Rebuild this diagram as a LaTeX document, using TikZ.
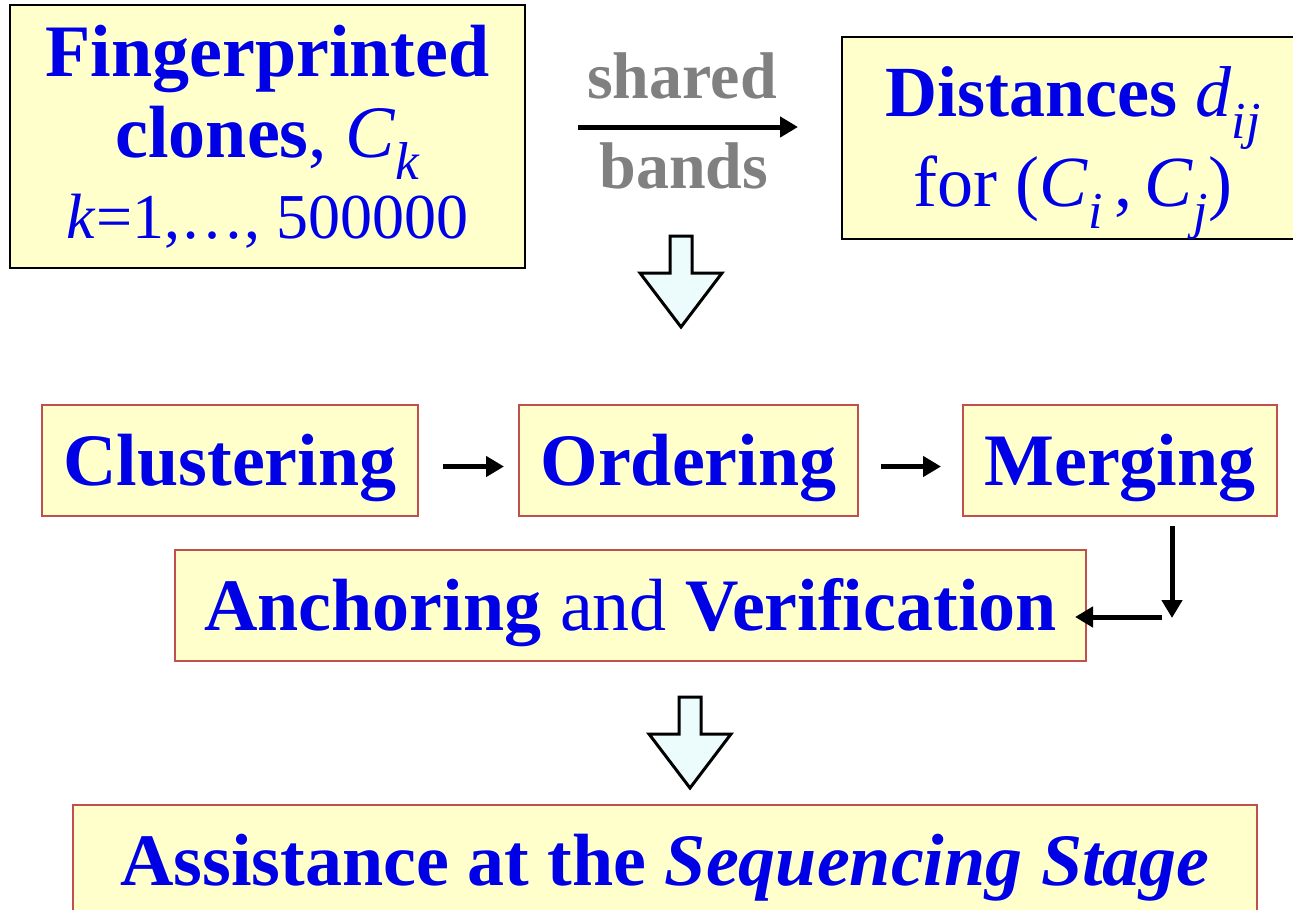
\documentclass[tikz,border=0pt]{standalone}
\usepackage{fontspec}
\setmainfont{Liberation Serif}
\usetikzlibrary{arrows.meta}
\definecolor{pad}{RGB}{255,255,204}
\definecolor{rim}{RGB}{192,80,77}
\definecolor{ink}{RGB}{0,0,230}
\definecolor{ice}{RGB}{236,252,252}
\newcommand{\idx}[1]{\raisebox{-0.3em}{\scalebox{0.72}{\itshape #1}}}
\newcommand{\hollowarrow}[2]{\draw[blockarr] (#1-11,#2)--(#1+11,#2)--(#1+11,#2-37)--(#1+41,#2-37)--(#1,#2-91)--(#1-41,#2-37)--(#1-11,#2-37)--cycle;}
\tikzset{
  topbox/.style={draw=black, line width=2pt, fill=pad, text=ink, align=center, inner sep=0pt},
  stepbox/.style={draw=rim, line width=2pt, fill=pad, text=ink, inner sep=0pt, minimum height=111pt, text height=52pt, text depth=3pt, font=\fontsize{74}{74}\selectfont},
  arr/.style={line width=5pt, -{Triangle[length=18pt,width=20pt]}},
  blockarr/.style={draw=black, line width=3pt, fill=ice, line join=miter}
}
\begin{document}
\begin{tikzpicture}[x=1pt,y=1pt]
\useasboundingbox (0,0) rectangle (1293,-910);
\fill[white] (0,0) rectangle (1293,-910);
\node[topbox, minimum width=515pt, minimum height=263pt, font=\fontsize{74}{81}\selectfont] (fing) at (267.5,-136.5)
  {\bfseries Fingerprinted\\
   {\bfseries clones}, \textit{C}\idx{k}\\
   \fontsize{64}{81}\selectfont\textit{k}=1,…, 500000};
\node[topbox, minimum width=462pt, minimum height=200pt, font=\fontsize{72}{90}\selectfont] (dist) at (1073,-138)
  {\rule{0pt}{80pt}{\bfseries Distances} \textit{d}\idx{ij}\\
   for (\textit{C}\idx{i}\,,\,\textit{C}\idx{j})};
\coordinate (sbl) at (578,-127);
\coordinate (sbr) at (798,-127);
\node[anchor=base, text=gray, font=\fontsize{66}{66}\selectfont\bfseries] (shr) at (682,-98) {shared};
\node[anchor=base, text=gray, font=\fontsize{66}{66}\selectfont\bfseries] (bnd) at (684,-188) {bands};
\draw[arr] (sbl) -- (sbr);
\hollowarrow{681}{-236}
\node[stepbox, minimum width=376pt] (clus) at (230,-460.5) {\bfseries Clustering};
\node[stepbox, minimum width=339pt] (ord) at (688.5,-460.5) {\bfseries Ordering};
\node[stepbox, minimum width=314pt] (merg) at (1120,-460.5) {\bfseries Merging};
\node[stepbox, minimum width=911pt] (anch) at (630.5,-605.5) {{\bfseries Anchoring} and {\bfseries Verification}};
\draw[arr] ([xshift=24pt,yshift=-6pt]clus.east) -- ([xshift=-14pt,yshift=-6pt]ord.west);
\draw[arr] ([xshift=22pt,yshift=-6pt]ord.east) -- ([xshift=-21pt,yshift=-6pt]merg.west);
\coordinate (bend) at (1172,-617);
\draw[arr] ([yshift=-9pt]merg.south -| bend) -- ([yshift=-1pt]bend);
\draw[arr] ([xshift=-10pt]bend) -- ([xshift=-12pt]anch.east |- bend);
\hollowarrow{690}{-697}
\node[stepbox, minimum width=1184pt] (asst) at (665,-860.5) {\bfseries Assistance at the \textit{Sequencing Stage}};
\end{tikzpicture}
\end{document}
